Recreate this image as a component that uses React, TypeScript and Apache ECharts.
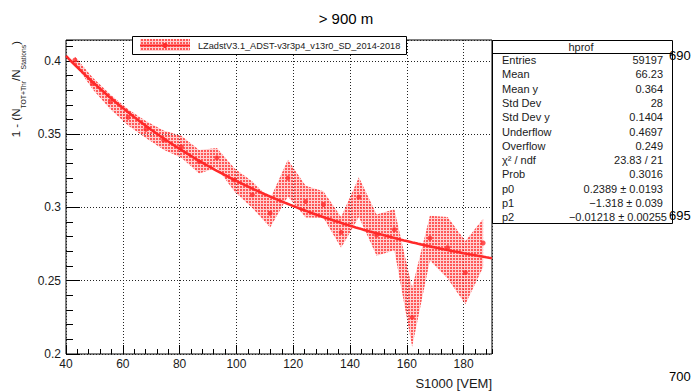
import React, { useEffect, useRef } from "react";
import * as echarts from "echarts";

// Profile bins (S1000 in VEM): bin centres, mean ratio and its uncertainty
const binCenters = [
  43.125, 49.375, 55.625, 61.875, 68.125, 74.375, 80.625, 86.875, 93.125, 99.375,
  105.625, 111.875, 118.125, 124.375, 130.625, 136.875, 143.125, 149.375, 155.625,
  161.875, 168.125, 174.375, 180.625, 186.875,
];
const profileMeans = [
  0.4005, 0.3846, 0.372, 0.3614, 0.3532, 0.3459, 0.3413, 0.3311, 0.3338, 0.3186,
  0.3086, 0.296, 0.32, 0.304, 0.302, 0.283, 0.307, 0.2811, 0.2848, 0.225, 0.279,
  0.2725, 0.2555, 0.2757,
];
const profileErrors = [
  0.0025, 0.004, 0.005, 0.0055, 0.0058, 0.0065, 0.0075, 0.008, 0.0068, 0.008, 0.009,
  0.0097, 0.0125, 0.0108, 0.009, 0.0105, 0.0135, 0.014, 0.014, 0.02, 0.0153, 0.021,
  0.0216, 0.0165,
];

// Fit: p0 + exp(p1 + p2 * x)
const fitParams = [0.2389, -1.318, -0.01218];
const fitRange = [40, 190];

// Axes
const xRange = [40, 190];
const xMajorStep = 20;
const xMinorStep = 4;
const yRange = [0.2, 0.4142];
const yMajorStep = 0.05;
const yMinorStep = 0.01;

const plotTitle = "> 900 m";
const xTitle = "S1000 [VEM]";
const legendLabel = "LZadstV3.1_ADST-v3r3p4_v13r0_SD_2014-2018";

const statsTitle = "hprof";
const statLabels = [
  "Entries", "Mean", "Mean y", "Std Dev", "Std Dev y", "Underflow", "Overflow",
  "\u03c7\u00b2 / ndf", "Prob", "p0", "p1", "p2",
];
const statValues = [
  "59197", "66.23", "0.364", "28", "0.1404", "0.4697", "0.249", "23.83 / 21",
  "0.3016", "0.2389 \u00b1 0.0193", "\u22121.318 \u00b1 0.039", "\u22120.01218 \u00b1 0.00255",
];
const sideMarks = ["690", "695", "700"];

const FONT = "'Liberation Sans', Arial, Helvetica, sans-serif";
const RED = "#ff2a2a";
const TEXT = "#1a1a1a";

function makeHatch(): HTMLCanvasElement {
  const c = document.createElement("canvas");
  c.width = 3;
  c.height = 3;
  const ctx = c.getContext("2d")!;
  ctx.clearRect(0, 0, 3, 3);
  ctx.fillStyle = "rgba(255,45,45,0.8)";
  ctx.fillRect(0, 0, 2, 2);
  ctx.fillStyle = "rgba(255,120,120,0.35)";
  ctx.fillRect(2, 0, 1, 3);
  ctx.fillRect(0, 2, 2, 1);
  return c;
}

function fitCurve(): number[][] {
  const pts: number[][] = [];
  for (let x = fitRange[0]; x <= fitRange[1]; x += 1) {
    pts.push([x, fitParams[0] + Math.exp(fitParams[1] + fitParams[2] * x)]);
  }
  return pts;
}

export default function App() {
  const ref = useRef<HTMLDivElement>(null);

  useEffect(() => {
    document.body.style.margin = "0";
    const chart = echarts.init(ref.current!, null, { renderer: "svg" });
    const hatch = { image: makeHatch(), repeat: "repeat" } as any;

    const gridLine = { show: true, lineStyle: { color: "#222", width: 1, type: [1, 2] } };
    const label = { color: TEXT, fontSize: 12, fontFamily: FONT };

    const rowTop = 60;
    const rowStep = 14.3;
    const statFont = 11;

    const statsGraphics: any[] = [
      {
        type: "rect",
        shape: { x: 492.5, y: 40.5, width: 180, height: 183 },
        style: { fill: "#fff", stroke: "#000", lineWidth: 1 },
        z: 10,
      },
      {
        type: "line",
        shape: { x1: 492.5, y1: 53.5, x2: 672.5, y2: 53.5 },
        style: { stroke: "#000", lineWidth: 1 },
        z: 11,
      },
      {
        type: "text",
        x: 581,
        y: 47,
        style: { text: statsTitle, fill: TEXT, fontSize: statFont, fontFamily: FONT, align: "center", verticalAlign: "middle" },
        z: 11,
      },
    ];
    statLabels.forEach((t, i) => {
      statsGraphics.push({
        type: "text",
        x: 502,
        y: rowTop + i * rowStep,
        style: { text: t, fill: TEXT, fontSize: statFont, fontFamily: FONT, align: "left", verticalAlign: "middle" },
        z: 11,
      });
      statsGraphics.push({
        type: "text",
        x: i === statValues.length - 1 ? 667 : 663,
        y: rowTop + i * rowStep,
        style: { text: statValues[i], fill: TEXT, fontSize: statFont, fontFamily: FONT, align: "right", verticalAlign: "middle" },
        z: 11,
      });
    });

    const sideGraphics = sideMarks.map((t, i) => ({
      type: "text",
      x: 669,
      y: [55, 215, 376][i],
      style: { text: t, fill: "#000", fontSize: 13, fontFamily: FONT, align: "left", verticalAlign: "middle" },
      z: 12,
    }));

    const legendGraphics: any[] = [
      {
        type: "rect",
        shape: { x: 132.5, y: 36.5, width: 274, height: 18 },
        style: { fill: "#fff", stroke: "#000", lineWidth: 1 },
        z: 10,
      },
      {
        type: "rect",
        shape: { x: 140, y: 39, width: 50, height: 12 },
        style: { fill: hatch, stroke: null },
        z: 11,
      },
      {
        type: "line",
        shape: { x1: 140, y1: 45.5, x2: 190, y2: 45.5 },
        style: { stroke: RED, lineWidth: 2 },
        z: 12,
      },
      {
        type: "circle",
        shape: { cx: 165, cy: 45.5, r: 2.5 },
        style: { fill: RED },
        z: 12,
      },
      {
        type: "text",
        x: 198,
        y: 46,
        style: { text: legendLabel, fill: TEXT, fontSize: 9.2, fontFamily: FONT, align: "left", verticalAlign: "middle" },
        z: 12,
      },
    ];

    const option: any = {
      animation: false,
      backgroundColor: "#fff",
      grid: {
        left: 66,
        right: 200,
        top: 40,
        bottom: 37,
        show: true,
        borderColor: "#000",
        borderWidth: 1,
        backgroundColor: "transparent",
      },
      xAxis: [
        {
          type: "value",
          min: xRange[0],
          max: xRange[1],
          interval: xMajorStep,
          axisLine: { show: false },
          axisTick: { inside: true, length: 9, lineStyle: { color: "#000" } },
          splitLine: gridLine,
          axisLabel: { ...label, margin: 4, showMaxLabel: false },
        },
        {
          type: "value",
          position: "bottom",
          min: xRange[0],
          max: xRange[1],
          interval: xMinorStep,
          axisLine: { show: false },
          axisTick: { inside: true, length: 5, lineStyle: { color: "#000" } },
          splitLine: { show: false },
          axisLabel: { show: false },
        },
      ],
      yAxis: [
        {
          type: "value",
          min: yRange[0],
          max: yRange[1],
          interval: yMajorStep,
          axisLine: { show: false },
          axisTick: { inside: true, length: 14, lineStyle: { color: "#000" } },
          splitLine: gridLine,
          axisLabel: {
            ...label,
            margin: 5,
            showMaxLabel: false,
            formatter: (v: number) => String(+v.toFixed(2)),
          },
        },
        {
          type: "value",
          position: "left",
          min: yRange[0],
          max: yRange[1],
          interval: yMinorStep,
          axisLine: { show: false },
          axisTick: { inside: true, length: 7, lineStyle: { color: "#000" } },
          splitLine: { show: false },
          axisLabel: { show: false },
        },
      ],
      series: [
        {
          type: "custom",
          name: "band",
          xAxisIndex: 0,
          yAxisIndex: 0,
          silent: true,
          data: [[binCenters[0], profileMeans[0]]],
          renderItem: (_params: any, api: any) => {
            const upper = binCenters.map((x, i) => api.coord([x, profileMeans[i] + profileErrors[i]]));
            const lower = binCenters
              .map((x, i) => api.coord([x, profileMeans[i] - profileErrors[i]]))
              .reverse();
            return {
              type: "polygon",
              shape: { points: upper.concat(lower) },
              style: { fill: hatch, stroke: null },
            };
          },
          z: 2,
        },
        {
          type: "line",
          name: "fit",
          xAxisIndex: 0,
          yAxisIndex: 0,
          data: fitCurve(),
          showSymbol: false,
          silent: true,
          lineStyle: { color: RED, width: 2.6 },
          z: 3,
        },
        {
          type: "scatter",
          name: "profile",
          xAxisIndex: 0,
          yAxisIndex: 0,
          data: binCenters.map((x, i) => [x, profileMeans[i]]),
          symbol: "circle",
          symbolSize: 5,
          itemStyle: { color: RED },
          silent: true,
          z: 4,
        },
      ],
      graphic: [
        {
          type: "text",
          x: 346,
          y: 18,
          style: { text: plotTitle, fill: "#000", fontSize: 15, fontFamily: FONT, align: "center", verticalAlign: "middle" },
        },
        {
          type: "text",
          x: 492,
          y: 383,
          style: { text: xTitle, fill: TEXT, fontSize: 13, fontFamily: FONT, align: "right", verticalAlign: "middle" },
        },
        {
          type: "text",
          x: 16,
          y: 41,
          rotation: Math.PI / 2,
          style: {
            text: "{n|1 - (N}{s|TOT+Thr}{n|/N}{s|Stations}{n|)}",
            fill: TEXT,
            fontFamily: FONT,
            align: "right",
            verticalAlign: "middle",
            rich: {
              n: { fontSize: 11.5, lineHeight: 22, verticalAlign: "middle", fontFamily: FONT, fill: TEXT },
              s: { fontSize: 6.8, lineHeight: 8, verticalAlign: "bottom", fontFamily: FONT, fill: TEXT },
            },
          },
        },
        ...legendGraphics,
        ...statsGraphics,
        ...sideGraphics,
      ],
    };

    chart.setOption(option);
    return () => chart.dispose();
  }, []);

  return <div ref={ref} style={{ width: 692, height: 391 }} />;
}
